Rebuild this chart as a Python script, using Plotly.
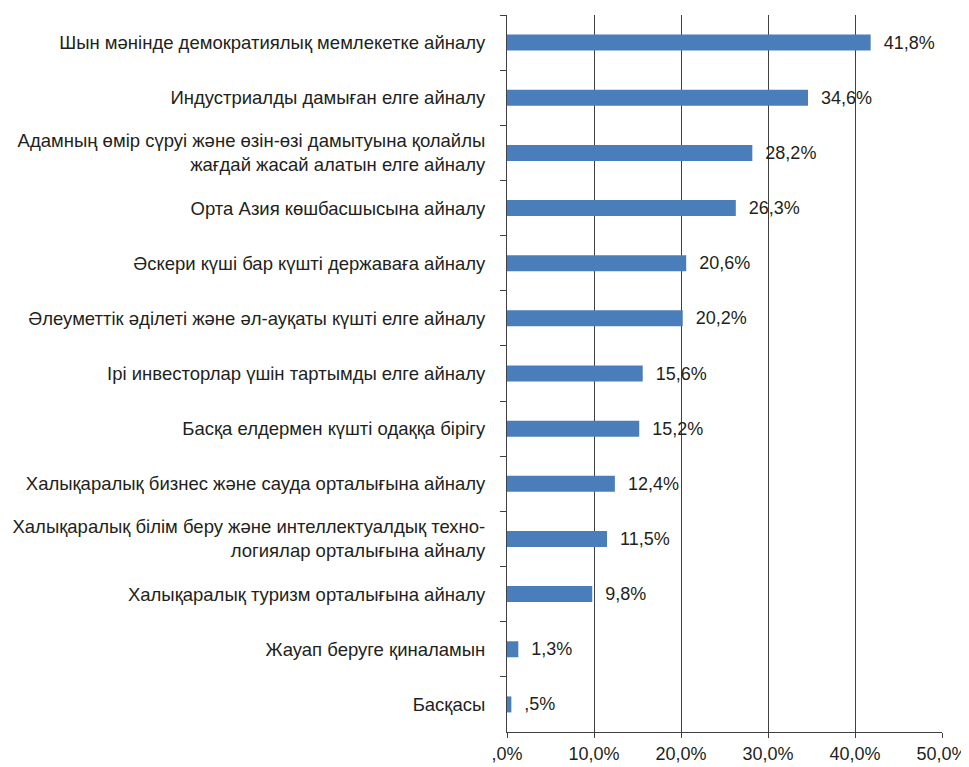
import plotly.graph_objects as go

categories = [
    "Шын мәнінде демократиялық мемлекетке айналу",
    "Индустриалды дамыған елге айналу",
    "Адамның өмір сүруі және өзін-өзі дамытуына қолайлы<br>жағдай жасай алатын елге айналу",
    "Орта Азия көшбасшысына айналу",
    "Әскери күші бар күшті державаға айналу",
    "Әлеуметтік әділеті және әл-ауқаты күшті елге айналу",
    "Ірі инвесторлар үшін тартымды елге айналу",
    "Басқа елдермен күшті одаққа бірігу",
    "Халықаралық бизнес және сауда орталығына айналу",
    "Халықаралық білім беру және интеллектуалдық техно-<br>логиялар орталығына айналу",
    "Халықаралық туризм орталығына айналу",
    "Жауап беруге қиналамын",
    "Басқасы",
]
values = [41.8, 34.6, 28.2, 26.3, 20.6, 20.2, 15.6, 15.2, 12.4, 11.5, 9.8, 1.3, 0.5]
tick_vals = [0, 10, 20, 30, 40, 50]
tick_text = [",0%", "10,0%", "20,0%", "30,0%", "40,0%", "50,0%"]


def fmt(v):
    s = f"{v:.1f}".replace(".", ",")
    if s.startswith("0,"):
        s = s[1:]
    return "\u00a0\u00a0" + s + "%"


labels = [fmt(v) for v in values]

font_family = "Liberation Sans, Arial, sans-serif"
text_color = "#231f20"
line_color = "#404040"
fsize = 18

fig = go.Figure(
    go.Bar(
        x=values,
        y=categories,
        orientation="h",
        marker=dict(color="#4a7ebb", line=dict(width=0)),
        width=0.29,
        text=labels,
        textposition="outside",
        constraintext="none",
        textfont=dict(family=font_family, size=fsize, color=text_color),
        cliponaxis=False,
    )
)

fig.update_layout(
    width=961,
    height=759,
    margin=dict(l=499, r=27, t=7, b=35),
    paper_bgcolor="white",
    plot_bgcolor="white",
    showlegend=False,
    font=dict(family=font_family, size=fsize, color=text_color),
)

fig.update_xaxes(
    range=[0, 50],
    tickvals=tick_vals,
    ticktext=tick_text,
    showgrid=True,
    gridcolor=line_color,
    gridwidth=1,
    zeroline=False,
    showline=True,
    linecolor=line_color,
    linewidth=1,
    ticks="outside",
    ticklen=5,
    tickcolor=line_color,
    automargin=False,
    tickfont=dict(family=font_family, size=fsize, color=text_color),
)

fig.update_yaxes(
    autorange="reversed",
    showline=True,
    linecolor=line_color,
    linewidth=1,
    ticks="outside",
    ticklen=6,
    tickcolor=line_color,
    tickson="boundaries",
    showgrid=False,
    automargin=False,
    ticklabelstandoff=17,
    tickfont=dict(family=font_family, size=18.5, color=text_color),
)

fig.write_html("out.html")
